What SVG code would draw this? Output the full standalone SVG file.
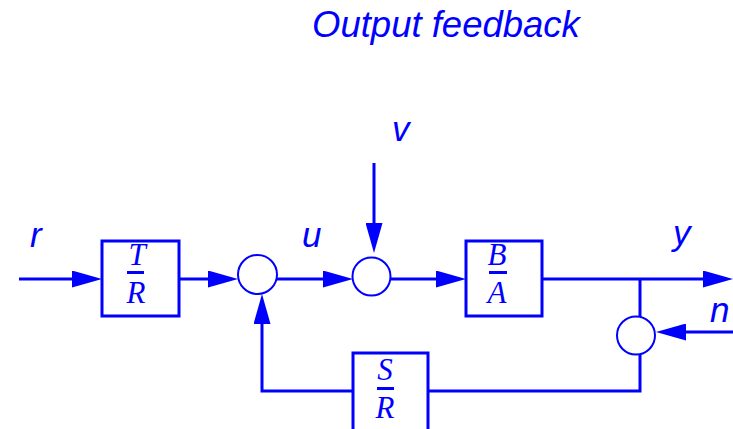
<svg xmlns="http://www.w3.org/2000/svg" width="733" height="429" viewBox="0 0 733 429">
<style>
.ln{fill:none;stroke:#0000ff;stroke-width:3;}
.box{fill:#ffffff;stroke:#0000ff;stroke-width:3;}
.sum{fill:#ffffff;stroke:#0000ff;stroke-width:2;}
.lbl{font-family:"Liberation Sans",Arial,sans-serif;font-style:italic;font-size:35px;fill:#0000ff;}
.frac{font-family:"Liberation Serif","Times New Roman",serif;font-style:italic;font-size:31px;fill:#0000ff;text-anchor:middle;}
.bar{fill:#0000ff;}
</style>
<defs>
<marker id="arr" markerUnits="userSpaceOnUse" viewBox="0 0 30 17" refX="20" refY="8.5" markerWidth="30" markerHeight="17" orient="auto">
<path d="M0 0 L30 8.5 L0 17 Z" fill="#0000ff"/>
</marker>
</defs>
<rect width="733" height="429" fill="#ffffff"/>
<text class="lbl" x="312" y="37" style="font-size:36.5px">Output feedback</text>
<g id="connectors">
<path class="ln" d="M19 279 H92" marker-end="url(#arr)"/>
<path class="ln" d="M179 279 H228" marker-end="url(#arr)"/>
<path class="ln" d="M277 279 H343" marker-end="url(#arr)"/>
<path class="ln" d="M374 163 V243" marker-end="url(#arr)"/>
<path class="ln" d="M390 279 H456" marker-end="url(#arr)"/>
<path class="ln" d="M542 279 H723" marker-end="url(#arr)"/>
<path class="ln" d="M640 279 V318"/>
<path class="ln" d="M640 353 V391 H428"/>
<path class="ln" d="M353 391 H262 V304" marker-end="url(#arr)"/>
<path class="ln" d="M733 332 H666" marker-end="url(#arr)"/>
</g>
<g id="label-r"><text class="lbl" x="30" y="247">r</text></g>
<g id="label-u"><text class="lbl" x="302" y="247">u</text></g>
<g id="label-v"><text class="lbl" x="392" y="141">v</text></g>
<g id="label-y"><text class="lbl" x="673" y="245">y</text></g>
<g id="label-n"><text class="lbl" x="710" y="322">n</text></g>
<g id="block-TR">
<rect class="box" x="102" y="241" width="77" height="75"/>
<text class="frac" x="137" y="265">T</text>
<rect class="bar" x="127" y="271" width="17" height="3"/>
<text class="frac" x="136" y="303">R</text>
</g>
<g id="sum1"><circle class="sum" cx="257.5" cy="274.5" r="19.5"/></g>
<g id="sum2"><circle class="sum" cx="371.5" cy="276.5" r="19"/></g>
<g id="block-BA">
<rect class="box" x="466" y="241" width="76" height="75"/>
<text class="frac" x="497" y="265">B</text>
<rect class="bar" x="489" y="271" width="18" height="3"/>
<text class="frac" x="497" y="303">A</text>
</g>
<g id="sum3"><circle class="sum" cx="636" cy="335.5" r="19"/></g>
<g id="block-SR">
<rect class="box" x="353" y="353" width="75" height="80"/>
<text class="frac" x="385" y="380">S</text>
<rect class="bar" x="377" y="387" width="17" height="3"/>
<text class="frac" x="385" y="418">R</text>
</g>
</svg>
